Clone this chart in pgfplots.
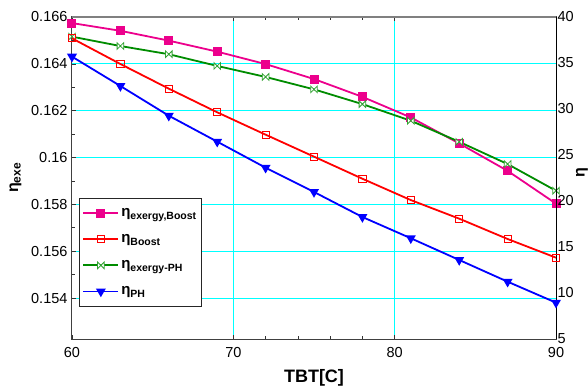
\documentclass[border=0pt]{standalone}
\usepackage{pgfplots}
\pgfplotsset{compat=1.18}
\usepackage{fontspec}
\setmainfont{Liberation Sans}
\definecolor{gridcyan}{RGB}{0,255,255}
\definecolor{dgreen}{RGB}{0,140,0}
\pgfdeclareplotmark{bowtie}{%
  \pgfpathmoveto{\pgfqpoint{-\pgfplotmarksize}{-\pgfplotmarksize}}%
  \pgfpathlineto{\pgfqpoint{\pgfplotmarksize}{\pgfplotmarksize}}%
  \pgfpathlineto{\pgfqpoint{\pgfplotmarksize}{-\pgfplotmarksize}}%
  \pgfpathlineto{\pgfqpoint{-\pgfplotmarksize}{\pgfplotmarksize}}%
  \pgfpathclose
  \pgfusepathqfillstroke}
\begin{document}
\begin{tikzpicture}
\pgfplotsset{
  every axis/.style={scale only axis, width=484pt, height=322pt},
  legimg/.style={legend image code/.code={\draw[mark repeat=2,mark phase=2] plot coordinates {(0pt,0pt) (17.5pt,0pt) (35pt,0pt)};}},
}
\begin{axis}[
  xmin=60, xmax=90, ymin=0.15225, ymax=0.166,
  xtick={70,80}, extra x ticks={60,90}, extra x tick style={grid=none},
  minor x tick num=4,
  ytick={0.154,0.156,0.158,0.16,0.162,0.164,0.166},
  yticklabels={0.154,0.156,0.158,0.16,0.162,0.164,0.166},
  minor y tick num=1,
  ytick pos=left, xtick pos=both,
  tick align=inside, major tick length=4pt, minor tick length=3pt,
  tick style={black!80, line width=0.6pt},
  grid=major, major grid style={gridcyan, line width=0.9pt},
  axis line style={black!75, line width=1pt},
  ticklabel style={font=\fontsize{14.5}{16}\selectfont},
  /pgf/number format/assume math mode=true,
  xticklabel style={yshift=-4.5pt},
  yticklabel style={xshift=-1pt},
  xlabel={\fontsize{18}{20}\selectfont\bfseries TBT[C]},
  xlabel style={yshift=-5pt},
  ylabel={\fontsize{16}{18}\selectfont\bfseries η\raisebox{-0.3ex}{\fontsize{12}{14}\selectfont exe}},
  ylabel style={yshift=3pt},
]
\draw[gray, line width=1.3pt] (rel axis cs:0,1) -- (rel axis cs:1,1);
\addplot[magenta, line width=1.8pt, mark=square*, mark size=3.6pt, mark options={solid}] coordinates {
 (60,0.16574) (63,0.16541) (66,0.16499) (69,0.16452) (72,0.16399) (75,0.16335)
 (78,0.16259) (81,0.16171) (84,0.16060) (87,0.15943) (90,0.15803)};
\addplot[dgreen, line width=1.8pt, mark=bowtie, mark size=3.3pt, mark options={solid, fill=white, line width=0.8pt, draw=dgreen!80}] coordinates {
 (60,0.16516) (63,0.16476) (66,0.16441) (69,0.16391) (72,0.16344) (75,0.16291)
 (78,0.16228) (81,0.16157) (84,0.16067) (87,0.15972) (90,0.15858)};
\end{axis}
\begin{axis}[
  xmin=60, xmax=90, ymin=5, ymax=40,
  hide x axis,
  axis y line*=right,
  ytick={5,10,...,40},
  major tick length=0pt,
  axis line style={black, line width=1pt},
  ticklabel style={font=\fontsize{14.5}{16}\selectfont},
  /pgf/number format/assume math mode=true,
  yticklabel style={xshift=-2pt},
  ylabel={\fontsize{16}{18}\selectfont\bfseries η},
  ylabel style={at={(rel axis cs:1.0537,0.5155)}, anchor=center, rotate=0},
  legend style={at={(0.0145,0.438)}, anchor=north west, draw=black!85, line width=0.9pt,
    fill=white, inner xsep=3pt, inner ysep=8pt, row sep=12.5pt,
    font=\fontsize{15}{17}\selectfont\bfseries, text depth=0pt},
  legend cell align=left,
  legimg,
]
\addlegendimage{magenta, line width=1.8pt, mark=square*, mark size=3.6pt}
\addlegendentry{η\raisebox{-0.4ex}{\fontsize{10.5}{12}\selectfont exergy,Boost}}
\addplot[red, line width=1.8pt, mark=square, mark size=3.6pt, mark options={solid, fill=white, line width=0.9pt}] coordinates {
 (60,37.68) (63,34.89) (66,32.21) (69,29.64) (72,27.21) (75,24.82)
 (78,22.42) (81,20.1) (84,18.08) (87,15.87) (90,13.84)};
\addlegendentry{η\raisebox{-0.4ex}{\fontsize{10.5}{12}\selectfont Boost}}
\addlegendimage{dgreen, line width=1.8pt, mark=bowtie, mark size=3.3pt, mark options={solid, fill=white, line width=0.8pt, draw=dgreen!80}}
\addlegendentry{η\raisebox{-0.4ex}{\fontsize{10.5}{12}\selectfont exergy-PH}}
\addplot[blue, line width=1.8pt, mark=triangle*, mark size=4pt, mark options={solid, rotate=180}] coordinates {
 (60,35.69) (63,32.5) (66,29.27) (69,26.45) (72,23.62) (75,20.98)
 (78,18.26) (81,15.95) (84,13.59) (87,11.23) (90,8.95)};
\addlegendentry{η\raisebox{-0.4ex}{\fontsize{10.5}{12}\selectfont PH}}
\end{axis}
\pgfresetboundingbox
\path[use as bounding box] (-72pt,-46pt) rectangle (516pt,339pt);
\end{tikzpicture}
\end{document}
